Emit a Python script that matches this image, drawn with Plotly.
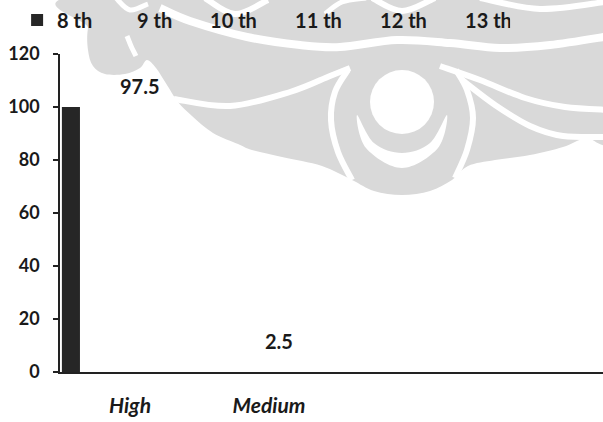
import plotly.graph_objects as go

# ---- data -------------------------------------------------------------
categories = ["High", "Medium"]
series_names = ["8 th", "9 th", "10 th", "11 th", "12 th", "13 th"]
values_8th = [100, 0]
values_9th = [97.5, 2.5]
values_10th = [0, 0]
values_11th = [0, 0]
values_12th = [0, 0]
values_13th = [0, 0]
y_ticks = [0, 20, 40, 60, 80, 100, 120]

# ---- canvas geometry ---------------------------------------------------
W, H = 603, 422
ML, MR, MT, MB = 60, 0, 54, 50
PW, PH = W - ML - MR, H - MT - MB

FONT = "Lato"
INK = "#1a1a1a"
GRAY = "#d9d9d9"

positions = list(range(len(categories)))

series = [
    # name, values, fill, bar width, bar offset, legend entry width
    (series_names[0], values_8th, "#262626", 0.13, -0.49, 35),
    (series_names[1], values_9th, "rgba(0,0,0,0)", 0.86, -0.36, 28),
    (series_names[2], values_10th, "rgba(0,0,0,0)", 0.10, 0.50, 40),
    (series_names[3], values_11th, "rgba(0,0,0,0)", 0.10, 0.50, 40),
    (series_names[4], values_12th, "rgba(0,0,0,0)", 0.10, 0.50, 40),
    (series_names[5], values_13th, "rgba(0,0,0,0)", 0.10, 0.50, 40),
]

fig = go.Figure()
for name, vals, color, w, off, lw in series:
    fig.add_trace(go.Bar(
        x=positions, y=vals, name=name, width=w, offset=off,
        marker=dict(color=color, line=dict(width=0)),
        legendwidth=lw, hoverinfo="skip",
    ))

# value labels for the 9th-grade series
lab_name, lab_vals, _, lab_w, lab_off, _ = series[1]
label_lift = [28, 24]
annotations = []
for i, v in enumerate(lab_vals):
    annotations.append(dict(
        x=positions[i] + lab_off + lab_w / 2, y=v, xref="x", yref="y",
        text=f"{v:g}", showarrow=False, yanchor="middle", yshift=label_lift[i],
        font=dict(family=FONT, size=20, color=INK, weight="bold"),
    ))


# ---- background ornament (drawn in pixel space, stored as paper coords) --
def to_paper(x, y):
    return (x - ML) / PW, (H - MB - y) / PH


def smooth_path(points, closed=False):
    pts = [to_paper(x, y) for x, y in points]
    n = len(pts)

    def get(i):
        if closed:
            return pts[i % n]
        return pts[max(0, min(n - 1, i))]

    d = f"M{pts[0][0]:.5f},{pts[0][1]:.5f}"
    segs = n if closed else n - 1
    for i in range(segs):
        p0, p1, p2, p3 = get(i - 1), get(i), get(i + 1), get(i + 2)
        c1 = (p1[0] + (p2[0] - p0[0]) / 6, p1[1] + (p2[1] - p0[1]) / 6)
        c2 = (p2[0] - (p3[0] - p1[0]) / 6, p2[1] - (p3[1] - p1[1]) / 6)
        d += (f" C{c1[0]:.5f},{c1[1]:.5f} {c2[0]:.5f},{c2[1]:.5f} "
              f"{p2[0]:.5f},{p2[1]:.5f}")
    if closed:
        d += " Z"
    return d


silhouette = [
    (96, -6), (612, -6), (612, 134), (585, 138), (563, 147), (530, 155),
    (495, 160), (468, 166), (452, 180), (430, 191), (402, 195), (374, 191),
    (352, 180), (322, 166), (282, 157), (252, 150), (238, 144), (213, 133),
    (192, 116), (178, 102), (167, 85), (156, 68), (147, 60), (140, 68),
    (125, 74), (105, 74), (93, 66), (88, 50), (88, 28),
]

white_strokes = [
    ([(160, 8), (190, 21), (247, 37), (300, 45), (340, 47), (397, 40),
      (450, 43), (500, 48), (550, 45), (610, 36)], 8),
    ([(174, 99), (230, 106), (290, 92), (330, 76), (350, 68)], 6),
    ([(348, 70), (335, 92), (331, 120), (338, 152), (352, 180)], 6),
    ([(456, 70), (467, 90), (473, 118), (467, 150), (455, 178)], 6),
    ([(440, 66), (480, 80), (525, 98), (565, 107), (610, 110)], 6),
    ([(462, 80), (495, 105), (530, 126), (563, 136), (610, 137)], 6),
    ([(127, 36), (131, 46), (136, 56)], 5),
    ([(116, -2), (130, 10), (148, 4)], 5),
    ([(205, -2), (235, 14), (268, 0)], 6),
    ([(325, 14), (342, 2), (366, -2)], 5),
    ([(372, -2), (402, 11), (435, -2)], 6),
    ([(480, -2), (540, 9), (605, 2)], 6),
]

shapes = [dict(type="path", xref="paper", yref="paper", layer="below",
               path=smooth_path(silhouette, closed=True),
               fillcolor=GRAY, line=dict(width=0))]
for pts, lw in white_strokes:
    shapes.append(dict(type="path", xref="paper", yref="paper", layer="below",
                       path=smooth_path(pts), line=dict(color="white", width=lw)))

cx0, cy0 = to_paper(402 - 32, 102 - 32)
cx1, cy1 = to_paper(402 + 32, 102 + 32)
shapes.append(dict(type="circle", xref="paper", yref="paper", layer="below",
                   x0=cx0, y0=cy0, x1=cx1, y1=cy1,
                   fillcolor="white", line=dict(width=0)))

crescent_outer = [(357, 115), (366, 148), (402, 168), (438, 148), (447, 115)]
crescent_inner = [(447, 115), (430, 143), (402, 153), (374, 143), (357, 115)]
shapes.append(dict(type="path", xref="paper", yref="paper", layer="below",
                   path=smooth_path(crescent_outer + crescent_inner[1:-1], closed=True),
                   fillcolor="white", line=dict(width=0)))

# ---- layout -------------------------------------------------------------
x_lo = (ML - 130) / 139
x_hi = (W - MR - 130) / 139

fig.update_layout(
    width=W, height=H, autosize=False,
    margin=dict(l=ML, r=MR, t=MT, b=MB, pad=0, autoexpand=False),
    paper_bgcolor="white", plot_bgcolor="rgba(0,0,0,0)",
    barmode="overlay",
    showlegend=True,
    legend=dict(
        orientation="h", x=-0.079, xanchor="left", y=1.107, yanchor="middle",
        bgcolor="rgba(0,0,0,0)", borderwidth=0, traceorder="normal",
        font=dict(family=FONT, size=20, color=INK, weight="bold"),
    ),
    xaxis=dict(
        range=[x_lo, x_hi], tickmode="array", tickvals=positions, ticktext=categories,
        showgrid=False, zeroline=False, ticks="", showline=True,
        linecolor="#222222", linewidth=2, ticklabelstandoff=14,
        tickfont=dict(family=FONT, size=21, color=INK, weight="bold", style="italic"),
        automargin=False, fixedrange=True,
    ),
    yaxis=dict(
        range=[0, 120], tickmode="array", tickvals=y_ticks,
        showgrid=False, zeroline=False, showline=True,
        linecolor="#222222", linewidth=1.5,
        ticks="outside", ticklen=5, tickwidth=1.5, tickcolor="#222222",
        ticklabelstandoff=10,
        tickfont=dict(family=FONT, size=18, color=INK, weight="bold"),
        automargin=False, fixedrange=True,
    ),
    annotations=annotations,
    shapes=shapes,
)

fig.write_html("out.html")
